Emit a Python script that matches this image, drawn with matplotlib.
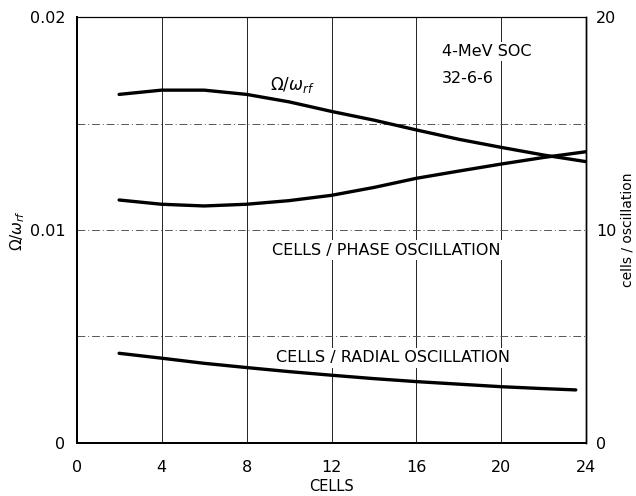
import matplotlib.pyplot as plt

plt.rcParams['font.family'] = ['DejaVu Sans']
plt.rcParams['mathtext.fontset'] = 'dejavusans'

# values
cells = [2, 4, 6, 8, 10, 12, 14, 16, 18, 20, 22, 24]
omega_ratio = [0.01637, 0.01657, 0.01657, 0.01637, 0.01602, 0.01557, 0.01516,
               0.01470, 0.01426, 0.01388, 0.01352, 0.01321]
phase_cells = [11.41, 11.21, 11.13, 11.21, 11.38, 11.63, 12.00, 12.43,
               12.77, 13.10, 13.41, 13.68]
radial_x = [2, 4, 6, 8, 10, 12, 14, 16, 18, 20, 22, 23.5]
radial_cells = [4.21, 3.98, 3.74, 3.54, 3.35, 3.18, 3.02, 2.88, 2.76, 2.64, 2.55, 2.49]

x_ticks = [0, 4, 8, 12, 16, 20, 24]
left_ticks = [0, 0.01, 0.02]
left_labels = ['0', '0.01', '0.02']
right_ticks = [0, 10, 20]

fig = plt.figure(figsize=(6.36, 4.96), dpi=100)
ax = fig.add_axes([0.1205, 0.107, 0.8015, 0.8585])
ax2 = ax.twinx()

ax.set_xlim(0, 24)
ax.set_ylim(0, 0.02)
ax2.set_ylim(0, 20)

# grid
for xv in x_ticks[1:-1]:
    ax.axvline(xv, color='#222222', lw=0.7, zorder=1)
for yv in [0.005, 0.01, 0.015]:
    ax.axhline(yv, color='#555555', lw=0.7, ls=(0, (8, 3, 1, 3)), zorder=1)

ax.plot(cells, omega_ratio, color='black', lw=2.4, solid_capstyle='round', zorder=3)
ax2.plot(cells, phase_cells, color='black', lw=2.4, solid_capstyle='round', zorder=3)
ax2.plot(radial_x, radial_cells, color='black', lw=2.4, solid_capstyle='round', zorder=3)

box = dict(facecolor='white', edgecolor='none', pad=1.5)
ax.text(9.1, 0.0168, r'$\Omega/\omega_{rf}$', fontsize=12, ha='left', va='center', zorder=4)
ax2.text(14.6, 9.06, 'CELLS / PHASE OSCILLATION', fontsize=11.5, ha='center', va='center',
         bbox=box, zorder=4)
ax2.text(14.9, 3.99, 'CELLS / RADIAL OSCILLATION', fontsize=11.5, ha='center', va='center',
         bbox=box, zorder=4)
ax.text(17.2, 0.0184, '4-MeV SOC', fontsize=11.5, ha='left', va='center', bbox=box, zorder=4)
ax.text(17.2, 0.0171, '32-6-6', fontsize=11.5, ha='left', va='center', bbox=box, zorder=4)

ax.set_xticks(x_ticks)
ax.set_yticks(left_ticks)
ax.set_yticklabels(left_labels)
ax2.set_yticks(right_ticks)
ax.tick_params(axis='x', length=0, labelsize=11.5, pad=12)
ax.tick_params(axis='y', length=0, labelsize=11.5, pad=8)
ax2.tick_params(axis='y', length=0, labelsize=11.5, pad=7)
ax.set_xlabel('CELLS', fontsize=10.5, labelpad=3)
ax.set_ylabel(r'$\Omega/\omega_{rf}$', fontsize=11, labelpad=2)
ax2.set_ylabel('cells / oscillation', fontsize=10, labelpad=3)

for a in (ax, ax2):
    a.spines['left'].set_linewidth(1.4)
    a.spines['bottom'].set_linewidth(1.4)
    a.spines['top'].set_linewidth(0.8)
    a.spines['right'].set_linewidth(1.0)

fig.savefig('out.png', dpi=100)
